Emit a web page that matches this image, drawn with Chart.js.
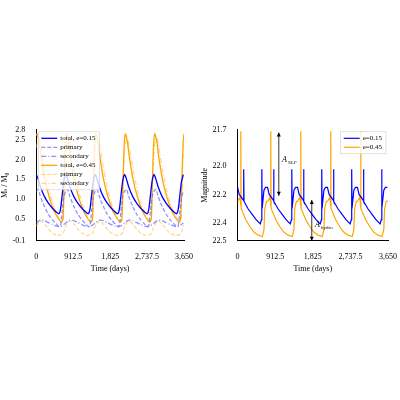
<!DOCTYPE html>
<html><head><script src="https://cdn.jsdelivr.net/npm/chart.js@4"></script>
<style>body{margin:0;background:#fff}#a,#b{position:absolute}</style></head><body>
<div id="a" style="left:0;top:122px;width:196px;height:152px"><canvas id="c1"></canvas></div>
<div id="b" style="left:200px;top:122px;width:200px;height:152px"><canvas id="c2"></canvas></div>
<script>
const tBlue=[0,50,100,200,300,400,500,560,600,640,680,727,777,827,927,1027,1127,1227,1287,1327,1367,1407,1454,1504,1554,1654,1754,1854,1954,2014,2054,2094,2134,2181,2231,2281,2381,2481,2581,2681,2741,2781,2821,2861,2908,2958,3008,3108,3208,3308,3408,3468,3508,3548,3588,3635];
const blueTotal=[1.62,1.5,1.32,1.07,0.9,0.77,0.67,0.63,0.75,1.1,1.45,1.62,1.5,1.32,1.07,0.9,0.77,0.67,0.63,0.75,1.1,1.45,1.62,1.5,1.32,1.07,0.9,0.77,0.67,0.63,0.75,1.1,1.45,1.62,1.5,1.32,1.07,0.9,0.77,0.67,0.63,0.75,1.1,1.45,1.62,1.5,1.32,1.07,0.9,0.77,0.67,0.63,0.75,1.1,1.45,1.62];
const bluePrimary=[1.2,1.25,1.08,0.82,0.62,0.48,0.37,0.31,0.34,0.7,1.05,1.2,1.25,1.08,0.82,0.62,0.48,0.37,0.31,0.34,0.7,1.05,1.2,1.25,1.08,0.82,0.62,0.48,0.37,0.31,0.34,0.7,1.05,1.2,1.25,1.08,0.82,0.62,0.48,0.37,0.31,0.34,0.7,1.05,1.2,1.25,1.08,0.82,0.62,0.48,0.37,0.31,0.34,0.7,1.05,1.2];
const blueSecondary=[0.4,0.44,0.47,0.46,0.41,0.36,0.32,0.31,0.31,0.33,0.36,0.4,0.44,0.47,0.46,0.41,0.36,0.32,0.31,0.31,0.33,0.36,0.4,0.44,0.47,0.46,0.41,0.36,0.32,0.31,0.31,0.33,0.36,0.4,0.44,0.47,0.46,0.41,0.36,0.32,0.31,0.31,0.33,0.36,0.4,0.44,0.47,0.46,0.41,0.36,0.32,0.31,0.31,0.33,0.36,0.4];
const tOrange=[0,20,70,120,220,320,420,520,620,660,690,720,747,797,847,947,1047,1147,1247,1347,1387,1417,1447,1474,1524,1574,1674,1774,1874,1974,2074,2114,2144,2174,2201,2251,2301,2401,2501,2601,2701,2801,2841,2871,2901,2928,2978,3028,3128,3228,3328,3428,3528,3568,3598,3628,3650];
const orangeTotal=[2.6,2.65,2.45,2.05,1.45,1.05,0.75,0.55,0.42,0.5,1.5,2.4,2.65,2.45,2.05,1.45,1.05,0.75,0.55,0.42,0.5,1.5,2.4,2.65,2.45,2.05,1.45,1.05,0.75,0.55,0.42,0.5,1.5,2.4,2.65,2.45,2.05,1.45,1.05,0.75,0.55,0.42,0.5,1.5,2.4,2.65,2.45,2.05,1.45,1.05,0.75,0.55,0.42,0.5,1.5,2.4,2.65];
const orangePrimary=[0.32,0.35,0.42,0.45,0.35,0.22,0.13,0.09,0.1,0.13,0.2,0.3,0.35,0.42,0.45,0.35,0.22,0.13,0.09,0.1,0.13,0.2,0.3,0.35,0.42,0.45,0.35,0.22,0.13,0.09,0.1,0.13,0.2,0.3,0.35,0.42,0.45,0.35,0.22,0.13,0.09,0.1,0.13,0.2,0.3,0.35,0.42,0.45,0.35,0.22,0.13,0.09,0.1,0.13,0.2,0.3,0.35];
const orangeSecondary=[2.3,2.4,2.55,2.3,1.7,1.2,0.85,0.6,0.45,0.45,1.2,2.1,2.4,2.55,2.3,1.7,1.2,0.85,0.6,0.45,0.45,1.2,2.1,2.4,2.55,2.3,1.7,1.2,0.85,0.6,0.45,0.45,1.2,2.1,2.4,2.55,2.3,1.7,1.2,0.85,0.6,0.45,0.45,1.2,2.1,2.4,2.55,2.3,1.7,1.2,0.85,0.6,0.45,0.45,1.2,2.1,2.4];
const tMagBlue=[0,40,140,148,156,250,350,450,550,580,588,596,640,680,727,767,867,875,883,977,1077,1177,1277,1307,1315,1323,1367,1407,1454,1494,1594,1602,1610,1704,1804,1904,2004,2034,2042,2050,2094,2134,2181,2221,2321,2329,2337,2431,2531,2631,2731,2761,2769,2777,2821,2861,2908,2948,3048,3056,3064,3158,3258,3358,3458,3488,3496,3504,3548,3588,3635];
const magBlue=[22.15,22.2,22.24,22.02,22.25,22.3,22.34,22.38,22.41,22.38,22.02,22.3,22.17,22.15,22.15,22.2,22.24,22.02,22.25,22.3,22.34,22.38,22.41,22.38,22.02,22.3,22.17,22.15,22.15,22.2,22.24,22.02,22.25,22.3,22.34,22.38,22.41,22.38,22.02,22.3,22.17,22.15,22.15,22.2,22.24,22.02,22.25,22.3,22.34,22.38,22.41,22.38,22.02,22.3,22.17,22.15,22.15,22.2,22.24,22.02,22.25,22.3,22.34,22.38,22.41,22.38,22.02,22.3,22.17,22.15,22.15];
const tMagOrange=[0,60,76,80,86,200,300,400,500,600,640,660,700,727,787,803,807,813,927,1027,1127,1227,1327,1367,1387,1427,1454,1514,1530,1534,1540,1654,1754,1854,1954,2054,2094,2114,2154,2181,2241,2257,2261,2267,2381,2481,2581,2681,2781,2821,2841,2881,2908,2968,2984,2988,2994,3108,3208,3308,3408,3508,3548,3568,3608,3650];
const magOrange=[22.25,22.22,22.28,21.75,22.3,22.38,22.43,22.47,22.49,22.5,22.45,22.3,22.25,22.25,22.22,22.28,21.75,22.3,22.38,22.43,22.47,22.49,22.5,22.45,22.3,22.25,22.25,22.22,22.28,21.75,22.3,22.38,22.43,22.47,22.49,22.5,22.45,22.3,22.25,22.25,22.22,22.28,21.75,22.3,22.38,22.43,22.47,22.49,22.5,22.45,22.3,22.25,22.25,22.22,22.28,21.75,22.3,22.38,22.43,22.47,22.49,22.5,22.45,22.3,22.25,22.25];
const leftLabels=['total, e=0.15','primary','secondary','total, e=0.45','primary','secondary'];
const rightLabels=['e=0.15','e=0.45'];
const F='"Liberation Serif","DejaVu Serif",serif';
Chart.defaults.font.family=F;Chart.defaults.font.size=8;Chart.defaults.color='#000';
const pts=(t,v)=>t.map((x,i)=>({x,y:v[i]}));
const B='#0000ff',O='#ffa500',LB='rgba(100,100,255,0.7)',LO='rgba(255,190,80,0.6)';
function ds(label,t,v,c,w,dash){return{label,data:pts(t,v),borderColor:c,borderWidth:w,borderDash:dash,pointRadius:0,tension:0.2,fill:false};}
function legendPlugin(items,pos){return{id:'lg',afterDraw(ch){const c=ch.ctx,a=ch.chartArea;c.save();c.font='7px '+F;
 let w=0;items.forEach(it=>w=Math.max(w,c.measureText(it.label).width));const bw=w+26,bh=items.length*9+4;
 const x0=pos==='left'?a.left+2:a.right-bw-2,y0=a.top+2;c.fillStyle='rgba(255,255,255,0.8)';c.strokeStyle='#ccc';c.lineWidth=0.6;c.fillRect(x0,y0,bw,bh);c.strokeRect(x0,y0,bw,bh);
 items.forEach((it,i)=>{const y=y0+6.5+i*9;c.strokeStyle=it.borderColor;c.lineWidth=it.borderWidth;c.setLineDash(it.borderDash||[]);c.beginPath();c.moveTo(x0+3,y);c.lineTo(x0+19,y);c.stroke();c.setLineDash([]);c.fillStyle='#000';c.textBaseline='middle';c.fillText(it.label,x0+22,y);});c.restore();}};}
function scalesCfg(ymin,ymax,step,rev,title){return{x:{type:'linear',min:0,max:3650,ticks:{stepSize:1000,maxRotation:0},grid:{display:false},border:{color:'#000'},title:{display:true,text:'Time (days)',padding:0}},
 y:{min:ymin,max:ymax,reverse:rev,ticks:{stepSize:step,callback:v=>v.toFixed(1)},grid:{display:false},border:{color:'#000'},title:{display:true,text:title,padding:0}}};}
const d1=[ds(leftLabels[0],tBlue,blueTotal,B,1.3),ds(leftLabels[1],tBlue,bluePrimary,LB,1.3,[4,2]),ds(leftLabels[2],tBlue,blueSecondary,LB,1.3,[5,2,1,2]),
 ds(leftLabels[3],tOrange,orangeTotal,O,1.3),ds(leftLabels[4],tOrange,orangePrimary,LO,1.3,[4,2]),ds(leftLabels[5],tOrange,orangeSecondary,LO,1.3,[5,2,1,2])];
new Chart(document.getElementById('c1'),{type:'line',data:{datasets:d1},options:{animation:false,responsive:true,maintainAspectRatio:false,layout:{padding:{top:6,right:4}},
 plugins:{legend:{display:false},tooltip:{enabled:false}},scales:(()=>{const s=scalesCfg(-0.05,2.75,0.5,false,'Mₜ / M₀');s.y.ticks.callback=v=>v.toFixed(1);return s;})()},plugins:[legendPlugin(d1,'left')]});
const d2=[ds(rightLabels[0],tMagBlue,magBlue,B,1.2),ds(rightLabels[1],tMagOrange,magOrange,O,1.2)];
d2.forEach(d=>d.tension=0);
const arrows={id:'ar',afterDraw(ch){const c=ch.ctx,x=ch.scales.x,y=ch.scales.y;c.save();c.strokeStyle='#000';c.fillStyle='#000';c.lineWidth=0.8;
 function arr(t,y1,y2){const px=x.getPixelForValue(t),a=y.getPixelForValue(y1),b=y.getPixelForValue(y2);c.beginPath();c.moveTo(px,a);c.lineTo(px,b);c.stroke();
  [[a,1],[b,-1]].forEach(([p,d])=>{c.beginPath();c.moveTo(px,p);c.lineTo(px-2,p+4*d);c.lineTo(px+2,p+4*d);c.closePath();c.fill();});}
 arr(1000,21.76,22.21);arr(1800,22.24,22.53);
 c.font='italic 8px '+F;c.fillText('A',x.getPixelForValue(1080),y.getPixelForValue(21.97));c.font='5px '+F;c.fillText('SLF',x.getPixelForValue(1080)+6,y.getPixelForValue(21.97)+2);
 c.font='italic 8px '+F;c.fillText('A',x.getPixelForValue(1880),y.getPixelForValue(22.43));c.font='5px '+F;c.fillText('hydro',x.getPixelForValue(1880)+6,y.getPixelForValue(22.43)+2);c.restore();}};
new Chart(document.getElementById('c2'),{type:'line',data:{datasets:d2},options:{animation:false,responsive:true,maintainAspectRatio:false,layout:{padding:{top:6,right:2}},
 plugins:{legend:{display:false},tooltip:{enabled:false}},scales:scalesCfg(21.74,22.53,0.2,true,'Magnitude')},plugins:[legendPlugin(d2,'right'),arrows]});
</script></body></html>
